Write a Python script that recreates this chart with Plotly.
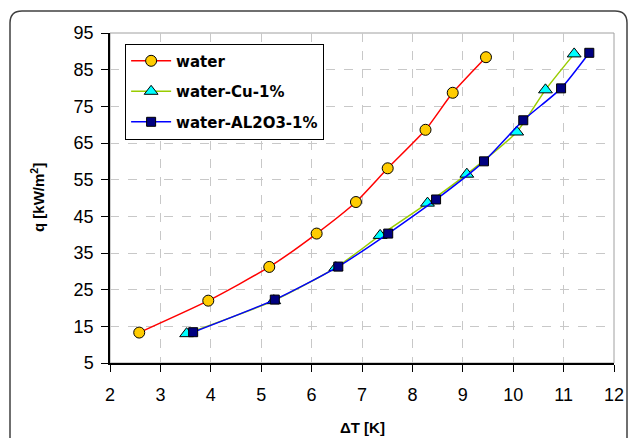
import plotly.graph_objs as go

# data
water_dt = [2.58, 3.95, 5.16, 6.10, 6.88, 7.51, 8.26, 8.80, 9.46]
water_q = [13.3, 22.0, 31.2, 40.3, 48.9, 58.1, 68.6, 78.7, 88.4]

cu_dt = [3.52, 5.25, 6.48, 7.36, 8.30, 9.08, 10.07, 10.64, 11.21]
cu_q = [13.0, 22.0, 31.0, 39.8, 48.6, 56.5, 68.0, 79.5, 89.3]

al_dt = [3.65, 5.27, 6.53, 7.52, 8.47, 9.42, 10.20, 10.95, 11.51]
al_q = [13.4, 22.3, 31.3, 40.3, 49.6, 60.0, 71.2, 79.9, 89.6]

y_ticks = [5, 15, 25, 35, 45, 55, 65, 75, 85, 95]
x_ticks = [2, 3, 4, 5, 6, 7, 8, 9, 10, 11, 12]

fig = go.Figure()

fig.add_trace(go.Scatter(
    x=water_dt, y=water_q, name="water", mode="lines+markers", legendgroup="a",
    line=dict(color="#FF0000", width=1.5, shape="spline", smoothing=0.6),
    marker=dict(symbol="circle", size=11, color="#FFCC00",
                line=dict(color="black", width=1))
))
fig.add_trace(go.Scatter(
    x=cu_dt, y=cu_q, name="water-Cu-1%", mode="lines+markers", legendgroup="b",
    line=dict(color="#99CC00", width=1.5, shape="spline", smoothing=0.6),
    marker=dict(symbol="triangle-up", size=12, color="#00FFFF",
                line=dict(color="black", width=1))
))
fig.add_trace(go.Scatter(
    x=al_dt, y=al_q, name="water-AL2O3-1%", mode="lines+markers", legendgroup="c",
    line=dict(color="#0000FF", width=1.5, shape="spline", smoothing=0.6),
    marker=dict(symbol="square", size=9, color="#000080",
                line=dict(color="black", width=1))
))

# rounded outer frame (chart area border)
l_px, r_px, t_px, b_px = 110, 614, 33, 363
pw, ph = r_px - l_px, b_px - t_px
def px(x):
    return (x - l_px) / pw
def py(y):
    return (b_px - y) / ph
x0, x1, y0, y1 = px(10), px(627), py(450), py(11)
rx, ry = 12 / pw, 12 / ph
frame = (f"M {x0} {y0} L {x0} {y1 - ry} Q {x0} {y1} {x0 + rx} {y1} "
         f"L {x1 - rx} {y1} Q {x1} {y1} {x1} {y1 - ry} L {x1} {y0}")

fig.update_layout(
    width=630, height=438,
    margin=dict(l=l_px, r=630 - r_px, t=t_px, b=438 - b_px),
    paper_bgcolor="white", plot_bgcolor="white",
    font=dict(family="Arial, Liberation Sans", color="black"),
    showlegend=True,
    legend=dict(
        x=0.03, y=0.968, xanchor="left", yanchor="top",
        bgcolor="white", bordercolor="black", borderwidth=1,
        font=dict(size=15, family="DejaVu Sans", weight="bold"),
        itemwidth=40, tracegroupgap=8,
    ),
    shapes=[
        dict(type="path", path=frame, xref="paper", yref="paper",
             line=dict(color="#404040", width=1.5), layer="below"),
        dict(type="rect", xref="paper", yref="paper", x0=0, x1=1, y0=0, y1=1,
             line=dict(color="#a0a0a0", width=1), layer="below"),
    ],
    annotations=[
        dict(text="<b>\u0394T [K]</b>", xref="paper", yref="paper",
             x=0.5, y=py(427), xanchor="center", yanchor="middle",
             showarrow=False, font=dict(size=15)),
        dict(text="<b>q [kW/m<sup>2</sup>]</b>", xref="paper", yref="paper",
             x=px(37), y=0.5, xanchor="center", yanchor="middle",
             textangle=-90, showarrow=False, font=dict(size=15)),
    ],
)

fig.update_xaxes(
    range=[2, 12], tickvals=x_ticks, ticks="outside", ticklen=7,
    tickcolor="black", tickfont=dict(size=18), ticklabelstandoff=8,
    showline=True, linecolor="black", linewidth=1.5, automargin=False,
    showgrid=True, gridcolor="#c8c8c8", griddash="dash", gridwidth=1,
    zeroline=False,
)
fig.update_yaxes(
    range=[5, 95], tickvals=y_ticks, ticks="outside", ticklen=7,
    tickcolor="black", tickfont=dict(size=18), ticklabelstandoff=4,
    showline=True, linecolor="black", linewidth=1.5, automargin=False,
    showgrid=True, gridcolor="#c8c8c8", griddash="dash", gridwidth=1,
    zeroline=False,
)

fig.write_html("out.html", config={"displayModeBar": False},
               post_script="document.body.style.margin='0';")
